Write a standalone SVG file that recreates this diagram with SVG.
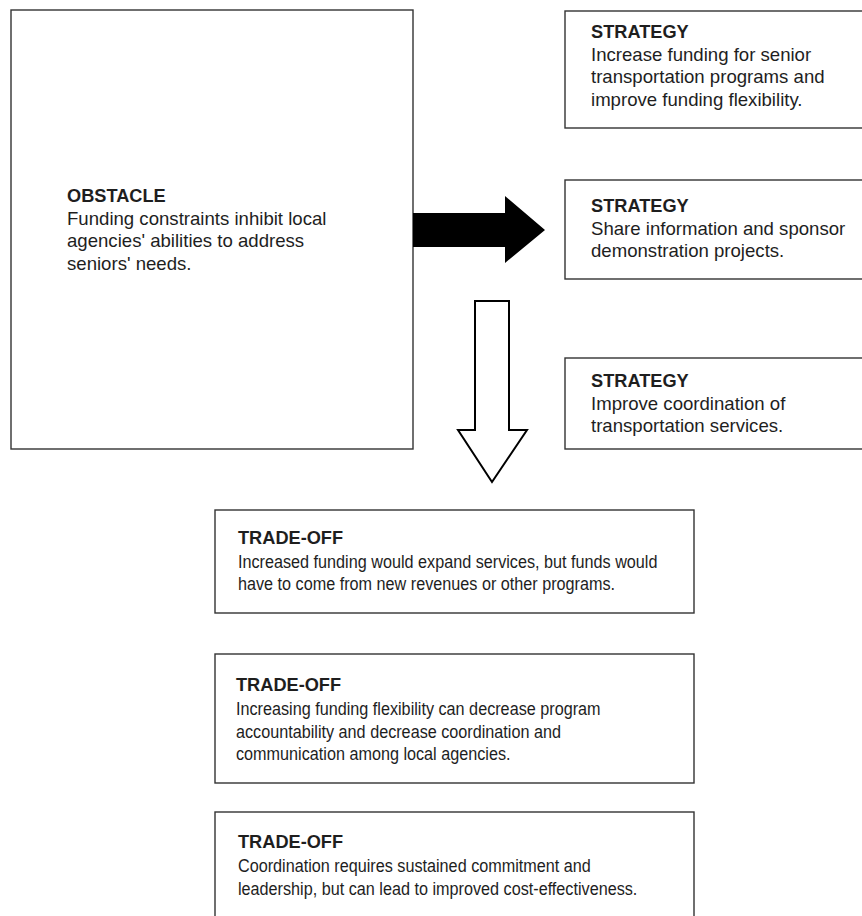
<svg xmlns="http://www.w3.org/2000/svg" width="862" height="916" viewBox="0 0 862 916">
<style>
.box{fill:#fff;stroke:#333;stroke-width:1.4}
text{font-family:"Liberation Sans",Arial,sans-serif;font-size:18.6px;fill:#1e1e1e}
.h{font-weight:bold;font-size:18.2px}
.n{font-size:18.3px}
</style>
<rect width="862" height="916" fill="#fff"/>
<g id="obstacle">
<rect class="box" x="11" y="10" width="402" height="439"/>
<text x="67" y="202"><tspan class="h">OBSTACLE</tspan><tspan x="67" dy="22.5">Funding constraints inhibit local</tspan><tspan x="67" dy="22.5">agencies' abilities to address</tspan><tspan x="67" dy="22.5">seniors' needs.</tspan></text>
</g>
<g id="strategy1">
<rect class="box" x="565" y="11" width="310" height="117"/>
<text x="591" y="38"><tspan class="h">STRATEGY</tspan><tspan x="591" dy="22.5">Increase funding for senior</tspan><tspan x="591" dy="22.5">transportation programs and</tspan><tspan x="591" dy="22.5">improve funding flexibility.</tspan></text>
</g>
<g id="strategy2">
<rect class="box" x="565" y="180" width="310" height="99"/>
<text x="591" y="212"><tspan class="h">STRATEGY</tspan><tspan x="591" dy="22.5">Share information and sponsor</tspan><tspan x="591" dy="22.5">demonstration projects.</tspan></text>
</g>
<g id="strategy3">
<rect class="box" x="565" y="358" width="310" height="91"/>
<text x="591" y="387"><tspan class="h">STRATEGY</tspan><tspan x="591" dy="22.5">Improve coordination of</tspan><tspan x="591" dy="22.5">transportation services.</tspan></text>
</g>
<g id="tradeoff1">
<rect class="box" x="215" y="510" width="479" height="103"/>
<text class="h" x="238" y="543.5">TRADE-OFF</text>
<text class="n" transform="translate(238,0) scale(0.886,1)"><tspan x="0" y="568">Increased funding would expand services, but funds would</tspan><tspan x="0" y="590.5">have to come from new revenues or other programs.</tspan></text>
</g>
<g id="tradeoff2">
<rect class="box" x="215" y="654" width="479" height="129"/>
<text class="h" x="236" y="691">TRADE-OFF</text>
<text class="n" transform="translate(236,0) scale(0.886,1)"><tspan x="0" y="715.5">Increasing funding flexibility can decrease program</tspan><tspan x="0" y="738">accountability and decrease coordination and</tspan><tspan x="0" y="760.5">communication among local agencies.</tspan></text>
</g>
<g id="tradeoff3">
<rect class="box" x="215" y="812" width="479" height="130"/>
<text class="h" x="238" y="848">TRADE-OFF</text>
<text class="n" transform="translate(238,0) scale(0.886,1)"><tspan x="0" y="872.5">Coordination requires sustained commitment and</tspan><tspan x="0" y="895">leadership, but can lead to improved cost-effectiveness.</tspan></text>
</g>
<g id="connectors">
<polygon points="413,213 505,213 505,196 545,230 505,263 505,247 413,247" fill="#000"/>
<polygon points="475,301 509,301 509,430 527,430 492,482 458,430 475,430" fill="#fff" stroke="#000" stroke-width="2" stroke-linejoin="miter"/>
</g>
</svg>
